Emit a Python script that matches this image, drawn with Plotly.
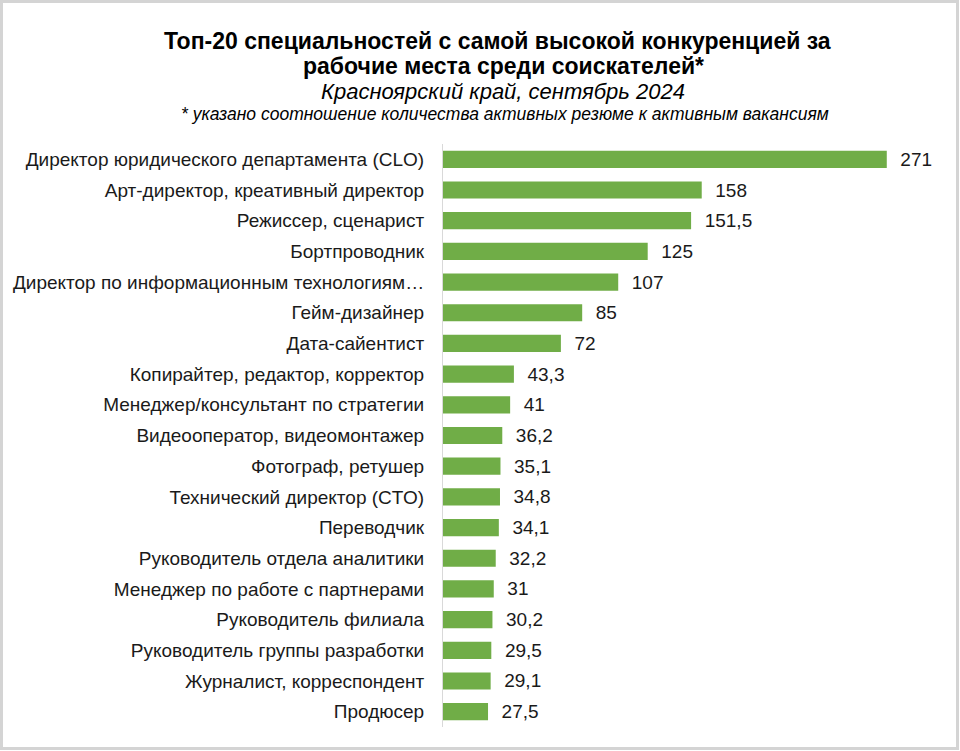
import plotly.graph_objects as go

# --- ДАННЫЕ ---
SPECIALNOSTI = [
    "Директор юридического департамента (CLO)",
    "Арт-директор, креативный директор",
    "Режиссер, сценарист",
    "Бортпроводник",
    "Директор по информационным технологиям…",
    "Гейм-дизайнер",
    "Дата-сайентист",
    "Копирайтер, редактор, корректор",
    "Менеджер/консультант по стратегии",
    "Видеооператор, видеомонтажер",
    "Фотограф, ретушер",
    "Технический директор (CTO)",
    "Переводчик",
    "Руководитель отдела аналитики",
    "Менеджер по работе с партнерами",
    "Руководитель филиала",
    "Руководитель группы разработки",
    "Журналист, корреспондент",
    "Продюсер",
]
KONKURENCIYA = [271, 158, 151.5, 125, 107, 85, 72, 43.3, 41, 36.2,
                35.1, 34.8, 34.1, 32.2, 31, 30.2, 29.5, 29.1, 27.5]

TITLE_1 = "Топ-20 специальностей с самой высокой конкуренцией за"
TITLE_2 = "рабочие места среди соискателей*"
SUBTITLE = "Красноярский край, сентябрь 2024"
NOTE = "* указано соотношение количества активных резюме к активным вакансиям"

ZELENY = "#70ad47"
TEXT_COLOR = "#1a1a1a"
FONT = "Liberation Sans, Arial, sans-serif"

# --- геометрия (пиксели) ---
W, H = 960, 751
PLOT_L, PLOT_R = 443, 940
PLOT_T, PLOT_B = 144, 727


def px_x(x):
    return (x - PLOT_L) / (PLOT_R - PLOT_L)


def px_y(y):
    return (PLOT_B - y) / (PLOT_B - PLOT_T)


labels = ["\u00a0\u00a0" + f"{v:g}".replace(".", ",") for v in KONKURENCIYA]

fig = go.Figure(
    go.Bar(
        x=KONKURENCIYA,
        y=SPECIALNOSTI,
        orientation="h",
        marker=dict(color=ZELENY, line=dict(width=0)),
        text=labels,
        textposition="outside",
        constraintext="none",
        textfont=dict(size=19, color=TEXT_COLOR, family=FONT),
        cliponaxis=False,
        width=0.56,
    )
)

fig.update_yaxes(
    autorange="reversed",
    showline=True,
    linecolor="#d9d9d9",
    linewidth=1,
    showgrid=False,
    ticks="",
    ticklabelstandoff=14,
    tickfont=dict(size=19, color=TEXT_COLOR, family=FONT),
)
fig.update_xaxes(
    range=[0, 303.5],
    visible=False,
    showgrid=False,
    zeroline=False,
)

# --- заголовки ---
for texto, cx, cy, size in [
    (f"<b>{TITLE_1}</b>", 497, 41, 23),
    (f"<b>{TITLE_2}</b>", 503, 66, 23),
    (f"<i>{SUBTITLE}</i>", 503, 91, 22),
    (f"<i>{NOTE}</i>", 505, 114, 17.5),
]:
    fig.add_annotation(
        xref="paper", yref="paper",
        x=px_x(cx), y=px_y(cy),
        text=texto,
        showarrow=False,
        font=dict(size=size, color="#000000", family=FONT),
        xanchor="center", yanchor="middle",
    )

# --- рамка ---
fig.add_shape(
    type="rect",
    xref="paper", yref="paper",
    x0=px_x(1.5), x1=px_x(W - 2.5),
    y0=px_y(H - 2.5), y1=px_y(1.5),
    line=dict(color="#d4d4d4", width=3),
    fillcolor="rgba(0,0,0,0)",
    layer="below",
)

fig.update_layout(
    width=W,
    height=H,
    margin=dict(l=PLOT_L, r=W - PLOT_R, t=PLOT_T, b=H - PLOT_B, autoexpand=False),
    paper_bgcolor="white",
    plot_bgcolor="white",
    showlegend=False,
    font=dict(family=FONT, color=TEXT_COLOR),
    bargap=0.44,
)

fig.write_html(
    "out.html",
    config={"displayModeBar": False},
    post_script="document.body.style.margin='0';document.body.style.overflow='hidden';",
)
